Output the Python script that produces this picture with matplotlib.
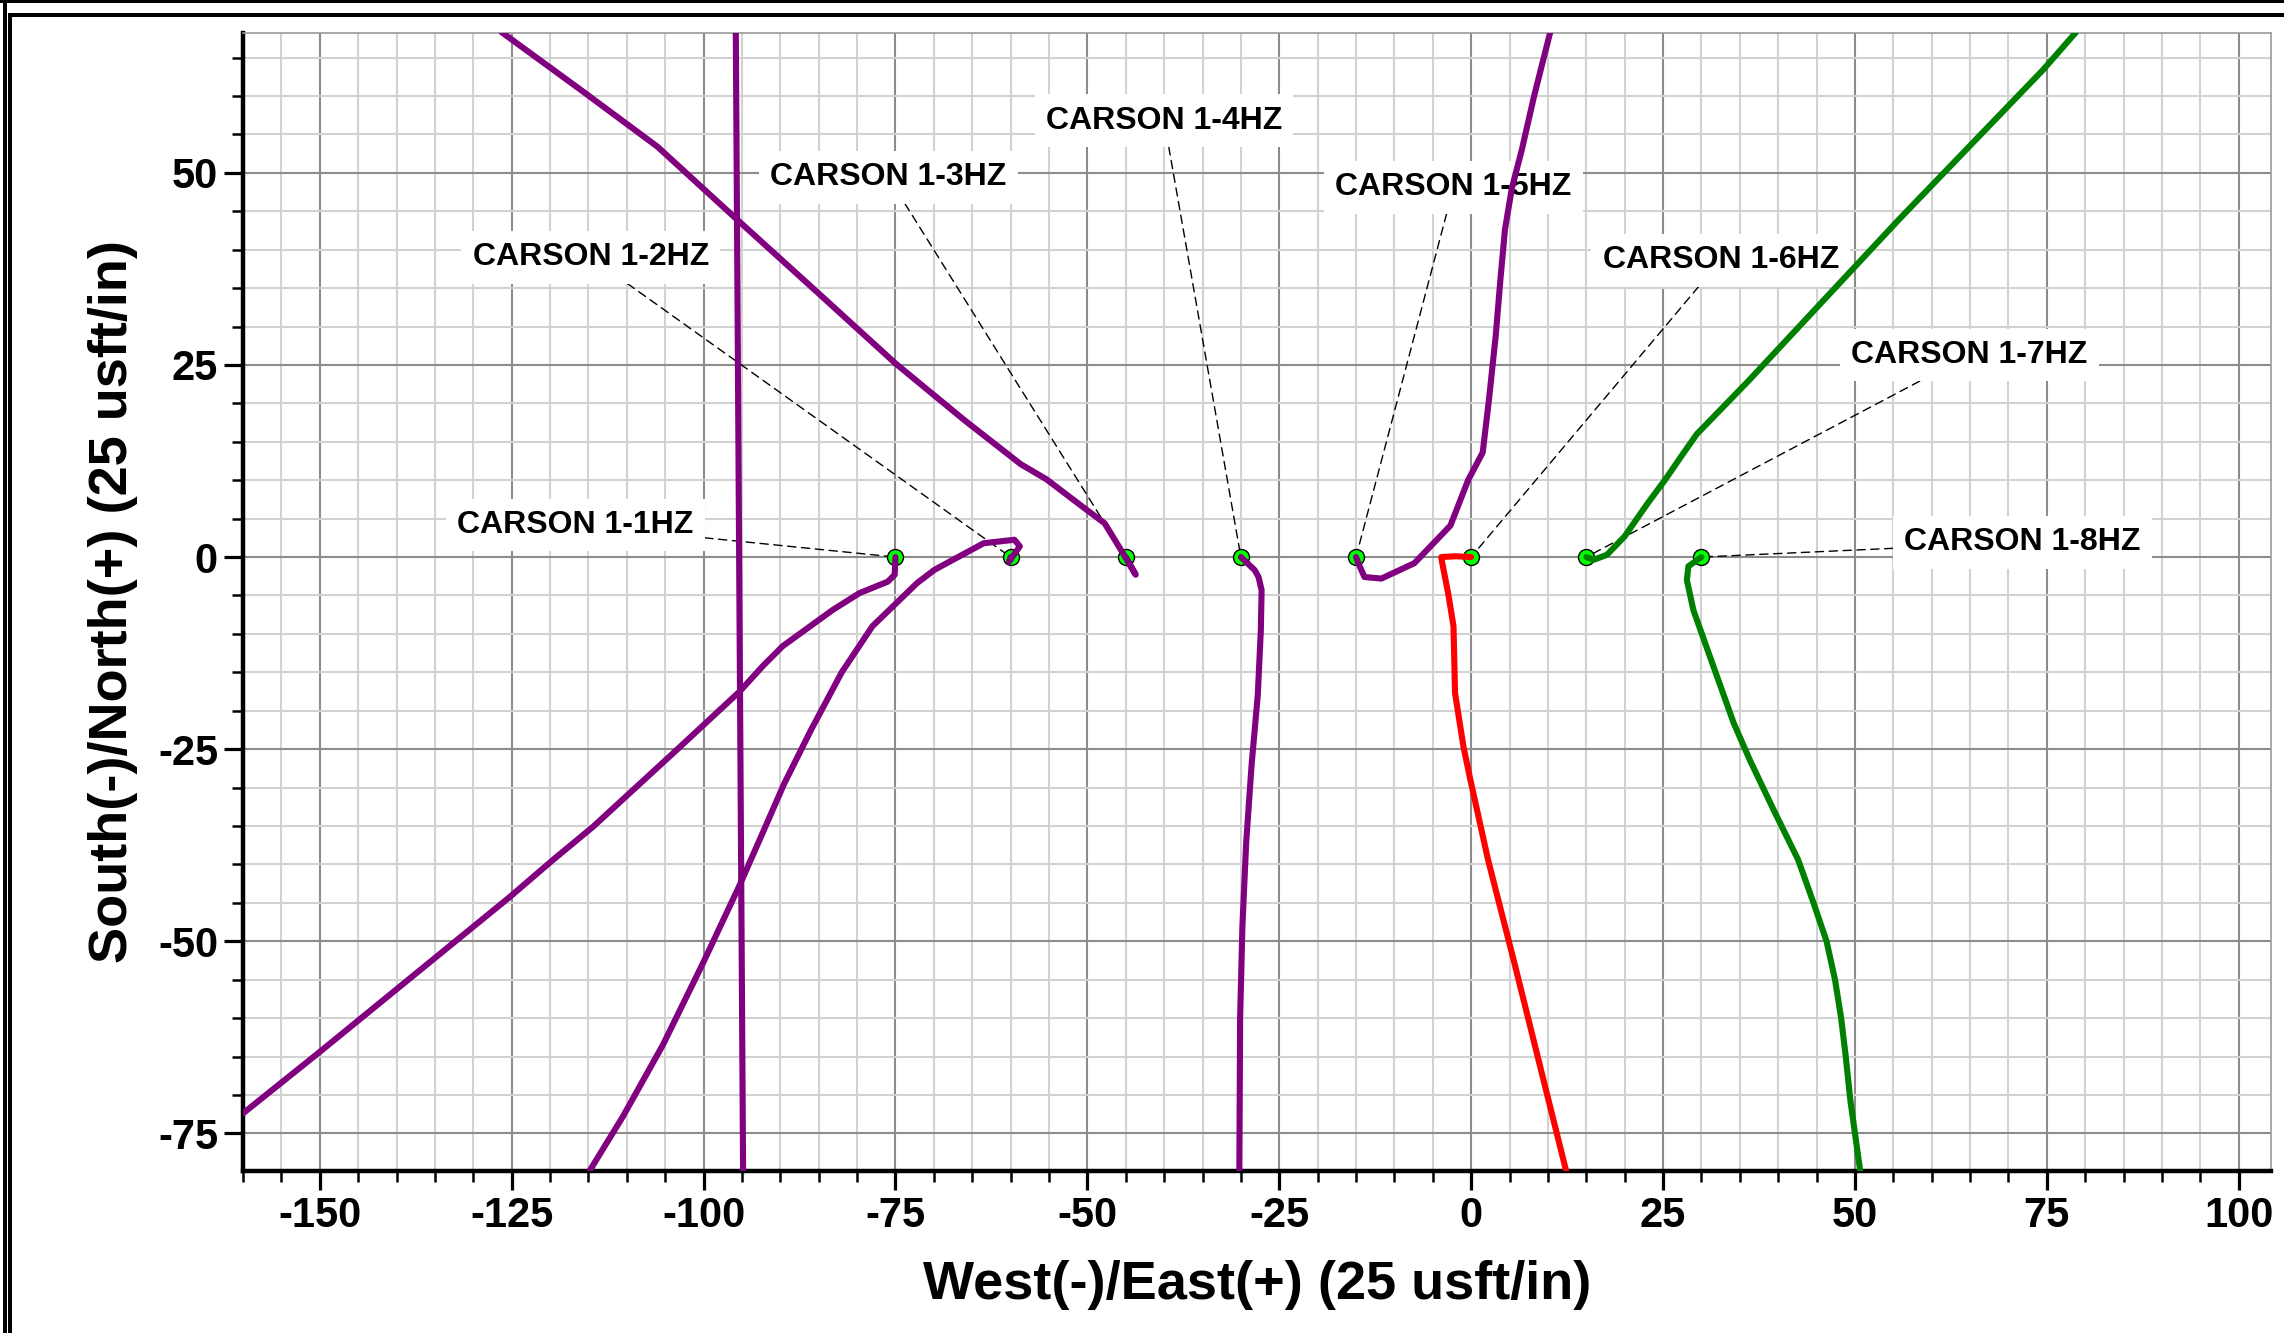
import numpy as np
import matplotlib.pyplot as plt
from matplotlib.ticker import MultipleLocator
from matplotlib.patches import Rectangle

plt.rcParams['font.family'] = ['Liberation Sans', 'DejaVu Sans']
plt.rcParams['font.weight'] = 'bold'
plt.rcParams['axes.unicode_minus'] = False

# well names, surface locations and label positions
wells = ['CARSON 1-1HZ', 'CARSON 1-2HZ', 'CARSON 1-3HZ', 'CARSON 1-4HZ',
         'CARSON 1-5HZ', 'CARSON 1-6HZ', 'CARSON 1-7HZ', 'CARSON 1-8HZ']
surf_x = [-75, -60, -45, -30, -15, 0, 15, 30]
surf_y = [0, 0, 0, 0, 0, 0, 0, 0]
label_x = [-116.7, -114.7, -75.9, -40.0, -2.3, 32.5, 64.9, 71.8]
label_y = [4.2, 39.0, 49.4, 56.8, 48.1, 38.6, 26.3, 1.9]

# well paths (east, north)
p11_x = [-75, -75.1, -76.0, -79.7, -83.2, -89.7, -92.3, -95.3, -103.5, -114.4, -119.6, -125.2, -150, -160]
p11_y = [0, -2.3, -3.2, -4.7, -6.9, -11.6, -14.2, -17.5, -25.1, -35.1, -39.4, -44.2, -64.4, -72.4]

p12_x = [-60, -60.2, -58.8, -59.5, -63.5, -69.9, -72.2, -75.1, -78.0, -82.0, -86.0, -89.5, -92.3, -95.3,
         -100.1, -105.3, -110.5, -114.8]
p12_y = [0, -0.6, 1.4, 2.25, 1.8, -1.65, -3.4, -6.2, -9.0, -15.0, -22.5, -29.5, -35.9, -42.7,
         -52.9, -63.5, -72.8, -79.8]

p13_x = [-45, -43.7, -45.3, -47.75, -50.7, -55.3, -58.7, -66.0, -75.0, -85.0, -95.5, -106.0, -116.0, -126.3]
p13_y = [0, -2.3, 0.4, 4.4, 6.6, 10.1, 12.1, 17.8, 25.2, 34.3, 43.8, 53.4, 60.8, 68.3]

p14_x = [-30, -28.2, -27.7, -27.3, -27.4, -27.8, -28.6, -29.3, -29.8, -30.1, -30.2]
p14_y = [0, -1.7, -2.6, -4.3, -9.5, -18.0, -27.0, -37.0, -48.0, -60.0, -80.0]

p15_x = [-15, -14.7, -13.9, -11.7, -7.4, -2.7, -0.4, 1.5, 2.3, 3.2, 3.8, 4.4, 5.3, 6.6, 8.2, 10.3]
p15_y = [0, -0.8, -2.6, -2.8, -0.8, 4.1, 10.0, 13.6, 20.3, 28.8, 36.0, 42.6, 48.0, 53.0, 60.0, 68.3]

p16_x = [0, -2.0, -3.9, -3.8, -3.0, -2.3, -2.1, -1.0, -0.1, 2.2, 5.6, 12.4]
p16_y = [0, 0.1, 0, -0.6, -4.7, -9.0, -17.7, -24.7, -29.0, -39.4, -52.7, -80.0]

p17_x = [15, 16.0, 17.7, 20.0, 23.0, 25.3, 27.5, 29.4, 36.1, 55.7, 74.5, 78.8]
p17_y = [0, -0.35, 0.3, 2.7, 7.0, 10.1, 13.3, 16.0, 22.9, 43.9, 63.4, 68.3]

p18_x = [30, 28.3, 28.1, 28.95, 31.55, 34.2, 36.3, 39.4, 42.6, 44.6, 46.3, 47.4, 48.2, 48.8, 49.4, 50.7]
p18_y = [0, -1.2, -3.0, -6.9, -14.2, -21.6, -26.4, -32.9, -39.4, -45.0, -50.0, -55.0, -60.0, -65.0, -70.7, -80.0]

# offset well crossing the plot
off_x = [-95.8, -95.3, -94.85]
off_y = [68.3, -10.0, -80.0]

paths = [(p11_x, p11_y, '#800080'), (p12_x, p12_y, '#800080'), (p13_x, p13_y, '#800080'),
         (p14_x, p14_y, '#800080'), (p15_x, p15_y, '#800080'), (p16_x, p16_y, '#ff0000'),
         (p17_x, p17_y, '#008000'), (p18_x, p18_y, '#008000'), (off_x, off_y, '#800080')]

W, H = 2284, 1333
fig = plt.figure(figsize=(W / 100, H / 100), dpi=100)
ax = fig.add_axes([243 / W, 1 - 1171 / H, (2271 - 243) / W, (1171 - 33) / H])

for px, py, c in paths:
    ax.plot(px, py, color=c, lw=4.4, solid_capstyle='round', solid_joinstyle='round', zorder=4)

ax.plot(surf_x, surf_y, 'o', ms=11.5, mfc='#00ff00', mec='black', mew=1.0, zorder=3)

for name, lx, ly, sx, sy in zip(wells, label_x, label_y, surf_x, surf_y):
    ax.annotate(name, xy=(sx, sy), xytext=(lx, ly), fontsize=23, fontweight='bold',
                ha='center', va='center', zorder=2,
                bbox=dict(boxstyle='square,pad=0.35', fc='white', ec='none'),
                arrowprops=dict(arrowstyle='-', color='black', lw=1.0, linestyle=(0, (6, 4)),
                                shrinkA=0, shrinkB=0))

ax.set_xlim(-160, 104.2)
ax.set_ylim(-79.9, 68.2)
ax.xaxis.set_major_locator(MultipleLocator(25))
ax.xaxis.set_minor_locator(MultipleLocator(5))
ax.yaxis.set_major_locator(MultipleLocator(25))
ax.yaxis.set_minor_locator(MultipleLocator(5))
ax.set_axisbelow(True)
ax.grid(which='major', color='#8c8c8c', lw=1.5)
ax.grid(which='minor', color='#d2d2d2', lw=1.5)

ax.tick_params(which='major', direction='out', length=14, width=2.3, labelsize=30, pad=4)
ax.tick_params(axis='y', which='major', pad=4)
ax.tick_params(which='minor', direction='out', length=8, width=1.8)

for s in ['left', 'bottom']:
    ax.spines[s].set_linewidth(3.2)
    ax.spines[s].set_color('black')
for s in ['top', 'right']:
    ax.spines[s].set_linewidth(1.2)
    ax.spines[s].set_color('#999999')

ax.set_xlabel('West(-)/East(+) (25 usft/in)', fontsize=39, fontweight='bold', labelpad=17)
ax.set_ylabel('South(-)/North(+) (25 usft/in)', fontsize=39, fontweight='bold', labelpad=14)

# double frame at top/left edges
def px_rect(x0, y0, w, h):
    fig.add_artist(Rectangle((x0 / W, 1 - (y0 + h) / H), w / W, h / H,
                             transform=fig.transFigure, color='black', lw=0))

px_rect(0, 0, W, 3.3)
px_rect(3.3, 0, 3.4, H)
px_rect(8.3, 12.7, W, 4)
px_rect(8.3, 12.7, 4, H)

fig.savefig('out.png', dpi=100)
